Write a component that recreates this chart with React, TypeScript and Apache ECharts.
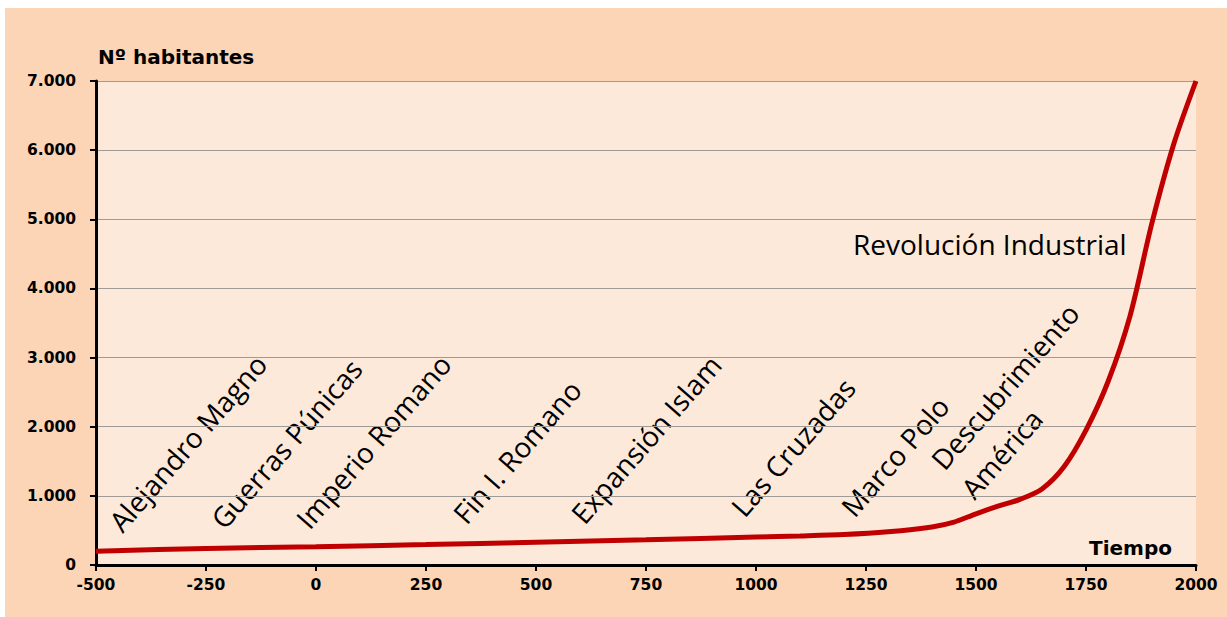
import React, { useEffect, useRef } from "react";
import * as echarts from "echarts";

const years = [-500, -250, 0, 250, 500, 750, 1000, 1100, 1200, 1300, 1400, 1450, 1500, 1550, 1600, 1650, 1700, 1750, 1800, 1850, 1900, 1950, 2000];
const population = [200, 240, 265, 295, 330, 365, 405, 420, 440, 480, 550, 620, 740, 850, 950, 1100, 1420, 1950, 2650, 3600, 4950, 6100, 7000];
const xTicks = [-500, -250, 0, 250, 500, 750, 1000, 1250, 1500, 1750, 2000];
const yTicks = [0, 1000, 2000, 3000, 4000, 5000, 6000, 7000];
const eventLabels = ["Alejandro Magno", "Guerras Púnicas", "Imperio Romano", "Fin I. Romano", "Expansión Islam", "Las Cruzadas", "Marco Polo", "Descubrimiento", "América"];
const eventPos: [number, number][] = [[108, 522], [210, 519], [295, 519], [452, 514], [570, 514], [730, 507], [840, 507], [930, 460], [960, 489]];

const FONT = "Open Sans";
const AXFONT = "DejaVu Sans";
const fmt = (v: number) => (v === 0 ? "0" : v.toLocaleString("de-DE"));

export default function App() {
  const ref = useRef<HTMLDivElement>(null);
  useEffect(() => {
    if (!ref.current) return;
    const chart = echarts.init(ref.current, undefined, { renderer: "svg" });
    const rot = (49 * Math.PI) / 180;
    const graphics: any[] = eventLabels.map((t, i) => ({
      type: "text",
      x: eventPos[i][0] + 12,
      y: eventPos[i][1] + 6,
      rotation: rot,
      style: { text: t, font: `28px "${FONT}"`, fill: "#000", textAlign: "left", textVerticalAlign: "bottom" },
    }));
    graphics.push({
      type: "text",
      x: 848,
      y: 236,
      style: { text: "Revolución Industrial", font: `28px "${FONT}"`, fill: "#000", textAlign: "left", textVerticalAlign: "middle" },
    });
    graphics.push({
      type: "text",
      x: 93,
      y: 49,
      style: { text: "Nº habitantes", font: `bold 20px "${AXFONT}"`, fill: "#000", textAlign: "left", textVerticalAlign: "middle" },
    });
    graphics.push({
      type: "text",
      x: 1167,
      y: 540,
      style: { text: "Tiempo", font: `bold 20px "${AXFONT}"`, fill: "#000", textAlign: "right", textVerticalAlign: "middle" },
    });
    chart.setOption({
      animation: false,
      backgroundColor: "#FBD5B5",
      grid: { left: 91, right: 31, top: 73, bottom: 52, show: true, backgroundColor: "#FDE9D9", borderWidth: 0 },
      xAxis: {
        type: "value",
        min: -500,
        max: 2000,
        interval: 250,
        axisLine: { show: true, onZero: false, lineStyle: { color: "#000", width: 3 } },
        axisTick: { show: true, inside: false, length: 6, lineStyle: { color: "#000", width: 2 } },
        axisLabel: { color: "#000", fontFamily: AXFONT, fontWeight: "bold", fontSize: 15.5, margin: 12, formatter: (v: number) => (xTicks.includes(v) ? String(v) : "") },
        splitLine: { show: false },
      },
      yAxis: {
        type: "value",
        min: 0,
        max: 7000,
        interval: 1000,
        axisLine: { show: true, onZero: false, lineStyle: { color: "#000", width: 3 } },
        axisTick: { show: true, inside: false, length: 6, lineStyle: { color: "#000", width: 2 } },
        axisLabel: { color: "#000", fontFamily: AXFONT, fontWeight: "bold", fontSize: 15.5, margin: 20, formatter: (v: number) => (yTicks.includes(v) ? fmt(v) : "") },
        splitLine: { show: true, lineStyle: { color: "#A09A96", width: 1 } },
      },
      series: [
        {
          type: "line",
          data: years.map((y, i) => [y, population[i]]),
          smooth: 0.3,
          showSymbol: false,
          lineStyle: { color: "#C00000", width: 5 },
          z: 3,
        },
      ],
      graphic: graphics,
    });
    return () => chart.dispose();
  }, []);
  return <div ref={ref} style={{ position: "fixed", left: 5, top: 8, width: 1222, height: 609 }} />;
}
